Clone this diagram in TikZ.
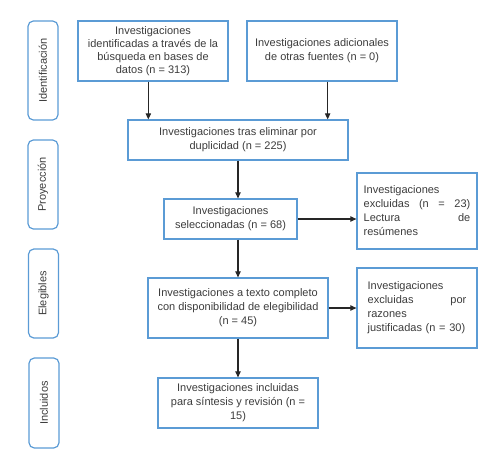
\documentclass[tikz,border=0pt]{standalone}
\usepackage{fontspec}
\setmainfont{Liberation Sans}
\usetikzlibrary{arrows.meta}
\definecolor{stepline}{HTML}{5B9BD5}
\definecolor{steptext}{HTML}{3C3C3C}
\tikzset{
  stepbox/.style={draw=stepline, line width=0.9pt, align=center, inner sep=2pt,
                  font=\fontsize{8.25}{10.5}\selectfont, text=steptext},
  exclbox/.style={stepbox, align=left},
  phasebox/.style={stepbox, rounded corners=4pt, rotate=90, minimum height=22.5pt},
  flow/.style={-{Triangle[length=4.5pt,width=4pt]}, line width=0.8pt, draw=black!85},
}
\begin{document}
\begin{tikzpicture}[x=0.75pt, y=-0.75pt]
    \useasboundingbox (0,0) rectangle (492,454);
    % phases
    \node[phasebox, minimum width=74.25pt] (p1) at (43,70.5) {Identificación};
    \node[phasebox, minimum width=66.75pt] (p2) at (43,184.5) {Proyección};
    \node[phasebox, minimum width=66.75pt] (p3) at (43.5,293.5) {Elegibles};
    \node[phasebox, minimum width=67.5pt] (p4) at (44,403) {Incluidos};
    % steps
    \node[stepbox, minimum width=112.5pt, minimum height=45pt, font=\fontsize{8.25}{9.6}\selectfont] (b1) at (153,51)
      {Investigaciones\\identificadas a través de la\\búsqueda en bases de\\datos (n = 313)};
    \node[stepbox, minimum width=112.5pt, minimum height=45pt] (b2) at (322,51)
      {Investigaciones adicionales\\de otras fuentes (n = 0)};
    \node[stepbox, minimum width=165pt, minimum height=30pt] (b3) at (238,140)
      {Investigaciones tras eliminar por\\duplicidad (n = 225)};
    \node[stepbox, minimum width=99.75pt, minimum height=30pt] (b4) at (230.5,219)
      {Investigaciones\\seleccionadas (n = 68)};
    \node[exclbox, text width=80pt, minimum width=90pt, minimum height=57pt] (b5) at (417,211)
      {Investigaciones\\excluidas\hfill(n\hfill=\hfill23)\\Lectura\hfill de\\resúmenes};
    \node[stepbox, minimum width=135pt, minimum height=45pt] (b6) at (238,308)
      {Investigaciones a texto completo\\con disponibilidad de elegibilidad\\(n = 45)};
    \node[exclbox, text width=74pt, minimum width=90pt, minimum height=60pt] (b7) at (417,308)
      {Investigaciones\\excluidas\hfill por\\razones\\\mbox{justificadas (n = 30)}};
    \node[stepbox, minimum width=120pt, minimum height=37.5pt] (b8) at (238,403)
      {Investigaciones incluidas\\para síntesis y revisión (n =\\15)};
    % arrows
    \draw[flow] ([xshift=-3.5pt]b1.south) -- ([xshift=-3.5pt]b1.south |- b3.north);
    \draw[flow] ([xshift=4.25pt]b2.south) -- ([xshift=4.25pt]b2.south |- b3.north);
    \draw[flow] (b3.south) -- (b3.south |- b4.north);
    \draw[flow] (b4.east) -- (b4.east -| b5.west);
    \draw[flow] (b6.north |- b4.south) -- (b6.north);
    \draw[flow] (b6.east) -- (b7.west);
    \draw[flow] (b6.south) -- (b8.north);
\end{tikzpicture}
\end{document}
